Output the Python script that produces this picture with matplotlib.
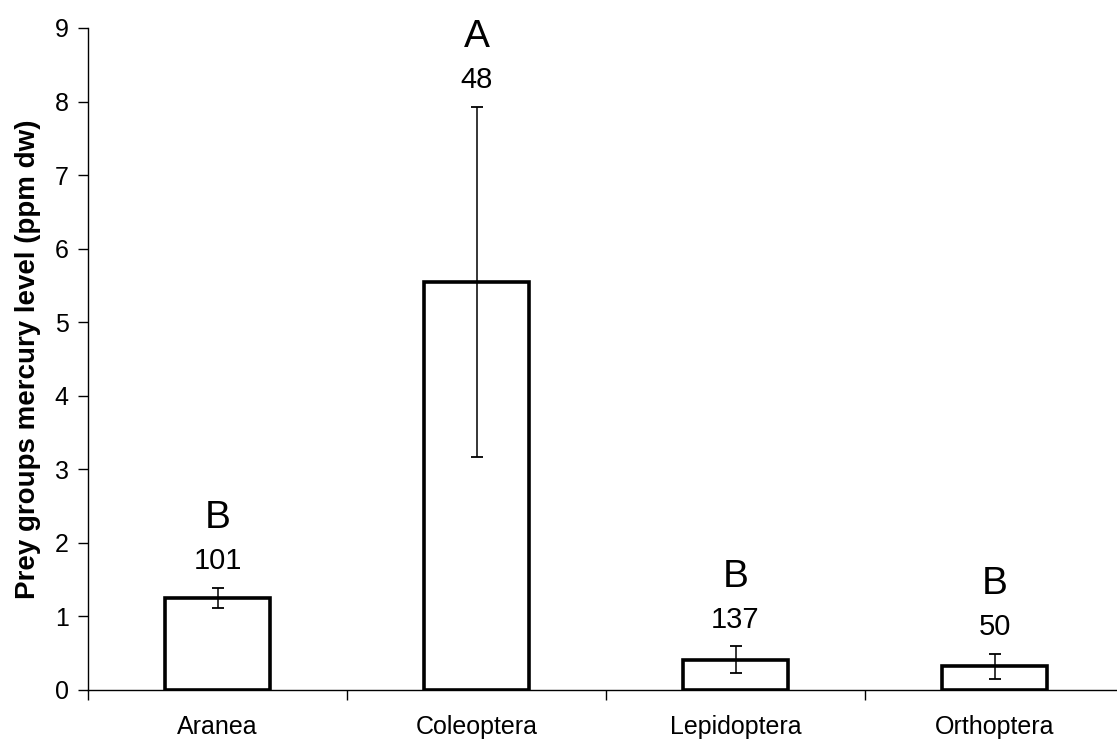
import matplotlib.pyplot as plt
import numpy as np

plt.rcParams["font.family"] = ["Liberation Sans", "DejaVu Sans"]

# 数据
groups = ["Aranea", "Coleoptera", "Lepidoptera", "Orthoptera"]
mean_hg = [1.25, 5.55, 0.41, 0.32]
err_hg = [0.14, 2.38, 0.185, 0.175]
n_samples = ["101", "48", "137", "50"]
letters = ["B", "A", "B", "B"]

x = np.arange(len(groups))

fig = plt.figure(figsize=(11.17, 7.42), dpi=100)
ax = fig.add_axes([0.0788, 0.0701, 0.9275, 0.8922])

ax.bar(
    x,
    mean_hg,
    width=0.405,
    color="white",
    edgecolor="black",
    linewidth=2.6,
    zorder=2,
)
ax.errorbar(
    x,
    mean_hg,
    yerr=err_hg,
    fmt="none",
    ecolor="black",
    elinewidth=1.1,
    capsize=4.5,
    capthick=1.3,
    zorder=3,
)

# 样本数和显著性字母
for xi, m, e, n, lt in zip(x, mean_hg, err_hg, n_samples, letters):
    ax.annotate(
        n,
        (xi, m + e),
        xytext=(0, 9),
        textcoords="offset points",
        ha="center",
        va="bottom",
        fontsize=21,
    )
    ax.annotate(
        lt,
        (xi, m + e),
        xytext=(0, 37),
        textcoords="offset points",
        ha="center",
        va="bottom",
        fontsize=28,
    )

ax.set_xlim(-0.5, 3.5)
ax.set_ylim(0, 9)
ax.set_yticks(range(0, 10))
ax.set_xticks(x)
ax.set_xticklabels(groups, fontsize=18)
ax.set_xticks(np.arange(-0.5, 4.0, 1.0), minor=True)
ax.tick_params(axis="x", which="major", length=0, pad=18)
ax.tick_params(axis="x", which="minor", length=7, width=1, direction="out")
ax.tick_params(axis="y", length=7, width=1, direction="out", pad=7, labelsize=18)

ax.set_ylabel("Prey groups mercury level (ppm dw)", fontsize=20, fontweight="bold", labelpad=10)

for side in ["top", "right"]:
    ax.spines[side].set_visible(False)
for side in ["left", "bottom"]:
    ax.spines[side].set_linewidth(1)

plt.savefig("out.png", dpi=100)
